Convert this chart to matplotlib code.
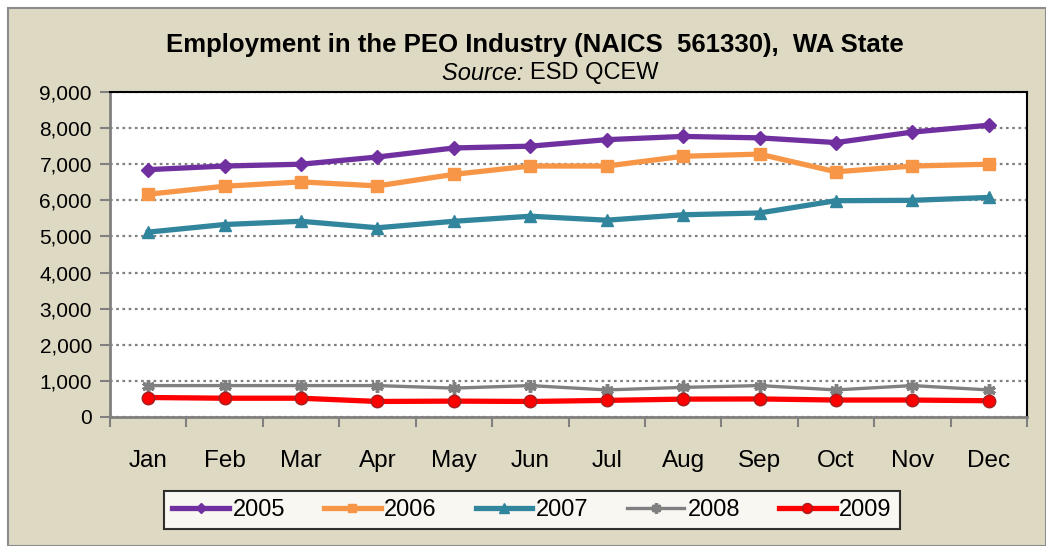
import matplotlib
matplotlib.use('Agg')
import matplotlib.pyplot as plt
from matplotlib.patches import Rectangle
from matplotlib.ticker import FuncFormatter, FixedLocator

months = ['Jan', 'Feb', 'Mar', 'Apr', 'May', 'Jun',
          'Jul', 'Aug', 'Sep', 'Oct', 'Nov', 'Dec']

# 年ごとの雇用者数
emp_2005 = [6850, 6950, 7000, 7200, 7450, 7500, 7680, 7770, 7730, 7600, 7890, 8080]
emp_2006 = [6170, 6390, 6510, 6400, 6720, 6950, 6950, 7220, 7280, 6790, 6950, 7000]
emp_2007 = [5120, 5330, 5420, 5240, 5420, 5560, 5450, 5600, 5650, 5990, 6000, 6080]
emp_2008 = [870, 870, 870, 870, 800, 870, 750, 820, 870, 750, 870, 750]
emp_2009 = [540, 520, 520, 430, 440, 430, 460, 495, 500, 470, 470, 450]

plt.rcParams['font.family'] = ['Liberation Sans', 'DejaVu Sans']

bg = '#DDD9C3'
fig = plt.figure(figsize=(10.46, 5.46), dpi=100)
fig.patch.set_facecolor('white')
# チャートエリアの背景と枠
fig.patches.append(Rectangle((8 / 1046, 0), 1 - 8 / 1046, 1 - 8 / 546,
                             transform=fig.transFigure, facecolor=bg,
                             edgecolor='#8C8C8C', linewidth=1.5, zorder=-1))

ax = fig.add_axes([110 / 1046, 1 - 417 / 546, 917 / 1046, 325 / 546])
ax.set_facecolor('white')

x = list(range(len(months)))
ax.plot(x, emp_2005, color='#7030A0', lw=3.8, marker='D', ms=7, label='2005', zorder=5)
ax.plot(x, emp_2006, color='#F79646', lw=3.8, marker='s', ms=8, label='2006', zorder=5)
ax.plot(x, emp_2007, color='#31859C', lw=3.8, marker='^', ms=9, label='2007', zorder=5)
ax.plot(x, emp_2008, color='#808080', lw=2.4, marker=(6, 2, 0), ms=9, mew=2.5,
        label='2008', zorder=4)
ax.plot(x, emp_2009, color='#FF0000', lw=3.8, marker='o', ms=9, mec='#A02020',
        mew=1, label='2009', zorder=5)

ax.set_xlim(-0.5, 11.5)
ax.set_ylim(0, 9000)
ax.set_yticks(range(0, 9001, 1000))
ax.yaxis.set_major_formatter(FuncFormatter(lambda v, p: f'{int(v):,}'))
ax.yaxis.grid(True, color='#808080', linestyle=(0, (1.2, 1.6)), linewidth=1.6)
ax.set_axisbelow(True)

ax.set_xticks(x)
ax.set_xticklabels(months)
ax.xaxis.set_minor_locator(FixedLocator([i - 0.5 for i in range(13)]))
ax.tick_params(axis='x', which='major', length=0, pad=24, labelsize=17.5)
ax.tick_params(axis='x', which='minor', length=7, width=1.5, color='#808080')
ax.tick_params(axis='y', length=7, width=1.5, color='#808080', labelsize=15, pad=6)

for s in ['left', 'bottom']:
    ax.spines[s].set_color('#808080')
    ax.spines[s].set_linewidth(2)
for s in ['top', 'right']:
    ax.spines[s].set_color('black')
    ax.spines[s].set_linewidth(1.5)

fig.text(535 / 1046, 1 - 45 / 546, 'Employment in the PEO Industry (NAICS  561330),  WA State',
         ha='center', va='center', fontsize=18.5, fontweight='bold')
fig.text(530 / 1046, 1 - 73 / 546, 'Source: ', ha='right', va='center',
         fontsize=17, style='italic')
fig.text(530 / 1046, 1 - 73 / 546, 'ESD QCEW', ha='left', va='center', fontsize=17)

leg = fig.legend(loc='center', bbox_to_anchor=(532 / 1046, 1 - 510 / 546), ncol=5,
                 fontsize=17, frameon=True, fancybox=False, edgecolor='black',
                 handlelength=2.4, columnspacing=1.65, handletextpad=0.15,
                 borderpad=0.35, markerscale=0.8)
leg.get_frame().set_linewidth(1.5)
leg.get_frame().set_facecolor('white')

fig.savefig('out.png', dpi=100, facecolor=fig.get_facecolor())
